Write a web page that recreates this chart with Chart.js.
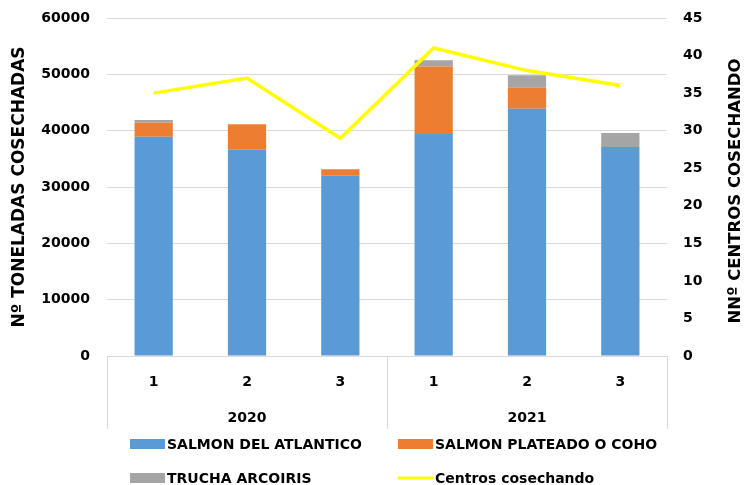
<!DOCTYPE html>
<html><head><meta charset="utf-8">
<script src="https://cdn.jsdelivr.net/npm/chart.js@4"></script>
<style>html,body{margin:0;padding:0;background:#fff}#c{display:block}</style>
</head><body>
<canvas id="c" width="745" height="485"></canvas>
<script>
const years = ['2020', '2021'];
const periods = ['1', '2', '3', '1', '2', '3'];
const atlantico = [38900, 36600, 32000, 39400, 43900, 37100];
const coho = [2500, 4550, 1150, 12000, 3700, 0];
const trucha = [480, 0, 0, 1100, 2250, 2500];
const centros = [35, 37, 29, 41, 38, 36];
const leftTicks = [0, 10000, 20000, 30000, 40000, 50000, 60000];
const rightTicks = [0, 5, 10, 15, 20, 25, 30, 35, 40, 45];
const leftTitle = 'Nº TONELADAS COSECHADAS';
const rightTitle = 'NNº CENTROS COSECHANDO';

const FONT = '"DejaVu Sans"';

const decor = {
  id: 'decor',
  afterDraw(chart) {
    const {ctx, chartArea: a, scales: {x}} = chart;
    ctx.save();
    ctx.strokeStyle = '#D9D9D9';
    ctx.lineWidth = 1;
    const mid = (x.getPixelForValue(2) + x.getPixelForValue(3)) / 2;
    [a.left, mid, a.right].forEach(px => {
      const p = Math.round(px) + 0.5;
      ctx.beginPath(); ctx.moveTo(p, a.bottom); ctx.lineTo(p, a.bottom + 73); ctx.stroke();
    });
    ctx.fillStyle = '#000';
    ctx.font = 'bold 14px ' + FONT;
    ctx.textAlign = 'center'; ctx.textBaseline = 'middle';
    years.forEach((yr, i) => {
      const cx = (x.getPixelForValue(i * 3) + x.getPixelForValue(i * 3 + 2)) / 2;
      ctx.fillText(yr, cx, a.bottom + 62);
    });
    // right axis title (reads bottom to top)
    ctx.save();
    ctx.translate(736, 191);
    ctx.rotate(-Math.PI / 2);
    ctx.font = 'bold 16.5px ' + FONT;
    ctx.fillText(rightTitle, 0, 0);
    ctx.restore();
    // legend
    const cols = [130, 398], rows = [444, 478];
    const ds = chart.data.datasets;
    ctx.font = 'bold 14px ' + FONT;
    ctx.textAlign = 'left';
    ds.forEach((d, k) => {
      const lx = cols[k % 2], ly = rows[Math.floor(k / 2)];
      if (d.type === 'line') {
        ctx.strokeStyle = d.borderColor; ctx.lineWidth = 3;
        ctx.beginPath(); ctx.moveTo(lx, ly); ctx.lineTo(lx + 35, ly); ctx.stroke();
      } else {
        ctx.fillStyle = d.backgroundColor;
        ctx.fillRect(lx, ly - 5, 35, 10);
      }
      ctx.fillStyle = '#000';
      ctx.fillText(d.label, lx + 37, ly + 1);
    });
    ctx.restore();
  }
};

function fixPad(s) { s.paddingTop = 8; s.paddingBottom = 8; }

new Chart(document.getElementById('c'), {
  data: {
    labels: periods,
    datasets: [
      {type: 'bar', label: 'SALMON DEL ATLANTICO', data: atlantico, backgroundColor: '#5B9BD5', yAxisID: 'y', order: 1},
      {type: 'bar', label: 'SALMON PLATEADO O COHO', data: coho, backgroundColor: '#ED7D31', yAxisID: 'y', order: 1},
      {type: 'bar', label: 'TRUCHA ARCOIRIS', data: trucha, backgroundColor: '#A5A5A5', yAxisID: 'y', order: 1},
      {type: 'line', label: 'Centros cosechando', data: centros, borderColor: '#FFFF00', backgroundColor: '#FFFF00',
       borderWidth: 3.5, pointRadius: 0, tension: 0, yAxisID: 'y1', order: 0}
    ]
  },
  options: {
    responsive: false,
    devicePixelRatio: 1,
    animation: false,
    layout: {padding: {top: 18, left: 0, right: 0, bottom: 0}},
    datasets: {bar: {categoryPercentage: 1, barPercentage: 0.41}},
    plugins: {legend: {display: false}, tooltip: {enabled: false}},
    scales: {
      x: {
        stacked: true,
        grid: {display: false},
        border: {display: false},
        ticks: {color: '#000', font: {family: FONT, weight: 'bold', size: 14}, padding: 10},
        afterFit(s) { s.height = 129; }
      },
      y: {
        stacked: true, position: 'left', min: 0, max: 60000,
        afterBuildTicks(s) { s.ticks = leftTicks.map(v => ({value: v})); },
        grid: {color: '#D9D9D9', drawTicks: false},
        border: {display: false},
        ticks: {color: '#000', font: {family: FONT, weight: 'bold', size: 14}, padding: 17, callback: v => String(v)},
        title: {display: true, text: leftTitle, color: '#000', font: {family: FONT, weight: 'bold', size: 17}, padding: {top: 9, bottom: 0}},
        afterFit(s) { s.width = 107; fixPad(s); }
      },
      y1: {
        position: 'right', min: 0, max: 45,
        afterBuildTicks(s) { s.ticks = rightTicks.map(v => ({value: v})); },
        grid: {display: false, drawTicks: false},
        border: {display: false},
        ticks: {color: '#000', font: {family: FONT, weight: 'bold', size: 14}, padding: 16, callback: v => String(v)},
        afterFit(s) { s.width = 78; fixPad(s); }
      }
    }
  },
  plugins: [decor]
});
</script>
</body></html>
